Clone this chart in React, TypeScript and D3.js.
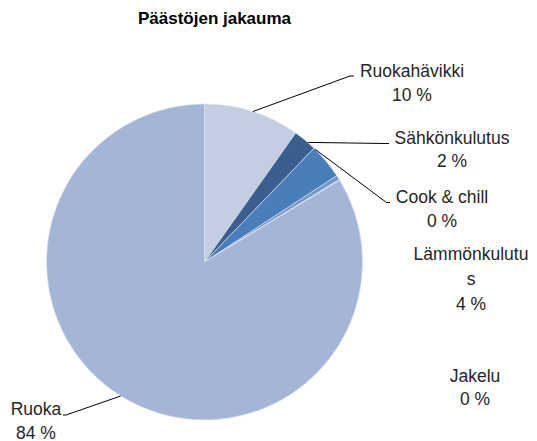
import React from "react";
import * as d3 from "d3";

const categories = ["Ruokahävikki", "Sähkönkulutus", "Lämmönkulutus", "Cook & chill", "Jakelu", "Ruoka"];
const values = [9.8, 2.4, 3.6, 0.45, 0.1, 83.65];
const percentLabels = ["10 %", "2 %", "4 %", "0 %", "0 %", "84 %"];
const labelLines = [["Ruokahävikki"], ["Sähkönkulutus"], ["Lämmönkulutu", "s"], ["Cook & chill"], ["Jakelu"], ["Ruoka"]];
const colors = ["#C3CEE3", "#3A5F8E", "#4A7EBB", "#7095C8", "#A4B5D7", "#A4B5D7"];
const title = "Päästöjen jakauma";

const W = 537, H = 441;
const cx = 204.5, cy = 262, R = 158;
// label layout: text center, first baseline, line height, leader start angle (deg), leader end, elbow end
const labelLayout = [
  { x: 412, y: 77, lh: 23.5, leader: { a: 17.8, ex: 350, ey: 76, hx: 354 } },
  { x: 452, y: 144, lh: 23, leader: { a: 40.8, ex: 386, ey: 143.5, hx: 389 } },
  { x: 471, y: 260, lh: 25, leader: null },
  { x: 442, y: 203, lh: 23.5, leader: { a: 44.5, ex: 386.5, ey: 202.5, hx: 390 } },
  { x: 475, y: 381.5, lh: 23.5, leader: null },
  { x: 36, y: 415, lh: 23.5, leader: { a: 212, ex: 66, ey: 415, hx: 63 } },
];

export default function App() {
  const pie = d3.pie<number>().sort(null).value((d) => d)(values);
  const arc = d3.arc<d3.PieArcDatum<number>>().innerRadius(0).outerRadius(R);
  const font = "'Liberation Sans', Arial, sans-serif";
  return (
    <svg width={W} height={H} style={{ position: "absolute", left: 0, top: 0, background: "#fff" }}>
      <text x={214.5} y={24} textAnchor="middle" fontFamily={font} fontWeight="bold" fontSize={17} fill="#000">{title}</text>
      <g transform={`translate(${cx},${cy})`}>
        {pie.map((p, i) => (
          <path key={i} d={arc(p) || ""} fill={colors[i]} stroke="#dfe5f0" strokeWidth={0.6} />
        ))}
      </g>
      {labelLayout.map((L, i) => {
        const a = L.leader ? (L.leader.a * Math.PI) / 180 : 0;
        const sx = cx + Math.sin(a) * R;
        const sy = cy - Math.cos(a) * R;
        return (
          <g key={i}>
            {L.leader && (
              <polyline
                points={`${sx},${sy} ${L.leader.ex},${L.leader.ey} ${L.leader.hx},${L.leader.ey}`}
                fill="none"
                stroke="#000"
                strokeWidth={1}
              />
            )}
            {labelLines[i].concat([percentLabels[i]]).map((t, j) => (
              <text key={j} x={L.x} y={L.y + j * L.lh} textAnchor="middle" fontFamily={font} fontSize={17.5} fill="#262626">
                {t}
              </text>
            ))}
          </g>
        );
      })}
    </svg>
  );
}
